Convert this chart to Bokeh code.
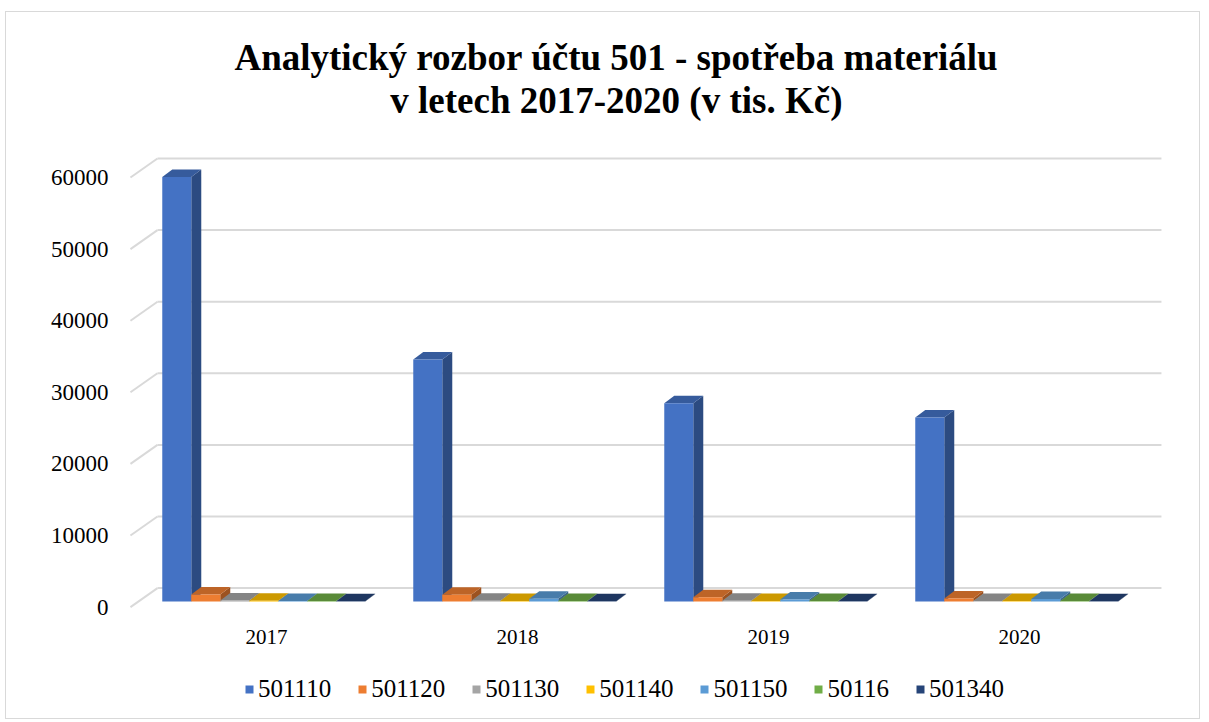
from bokeh.plotting import figure
from bokeh.models import Range1d, FixedTicker, Legend, LegendItem
from bokeh.layouts import column
from bokeh.core.properties import value
from bokeh.embed import file_html
from bokeh.resources import INLINE

# ---------------- data ----------------
YEARS = ["2017", "2018", "2019", "2020"]
SERIES = ["501110", "501120", "501130", "501140", "501150", "50116", "501340"]
V_501110 = [59300, 33800, 27700, 25700]
V_501120 = [1000, 950, 600, 450]
V_501130 = [150, 120, 110, 100]
V_501140 = [120, 100, 90, 90]
V_501150 = [100, 400, 300, 380]
V_50116 = [90, 80, 80, 70]
V_501340 = [60, 50, 40, 40]
VALUES = [V_501110, V_501120, V_501130, V_501140, V_501150, V_50116, V_501340]
COLORS = ["#4472C4", "#ED7D31", "#A5A5A5", "#FFC000", "#5B9BD5", "#70AD47", "#264478"]
Y_TICKS = [0, 10000, 20000, 30000, 40000, 50000, 60000]

TITLE_1 = "Analytický rozbor účtu 501 - spotřeba materiálu"
TITLE_2 = "v letech 2017-2020 (v tis. Kč)"

# ------------- layout / pseudo-3D styling constants -------------
PX_X = 1 / 251.0            # x data units per pixel
PX_Y = 1 / 0.00716          # y data units per pixel
SHIFT = -0.042              # floor front band offset vs label position
WALL_DX, WALL_DY = 27 * PX_X, 19 * PX_Y
BAR_W = 29 * PX_X
GROUP_PAD = 24 * PX_X
FRONT_DX, FRONT_DY = 7.8 * PX_X, 5.5 * PX_Y
DEPTH_DX, DEPTH_DY = 10 * PX_X, 7.5 * PX_Y
FONT = "Liberation Serif"
Y_TOP = 594.6 * PX_Y        # value at top of frame
TITLE_X = 1.394
TITLE_Y1 = (594.6 - 45) * PX_Y
TITLE_Y2 = (594.6 - 88) * PX_Y


def shade(hexcol, f):
    r, g, b = (int(hexcol[i:i + 2], 16) for i in (1, 3, 5))
    return "#%02x%02x%02x" % (int(r * f), int(g * f), int(b * f))


n = len(YEARS)
x_left_front = -0.5 + SHIFT
x_right_front = n - 0.5 + SHIFT

p = figure(width=1193, height=648, output_backend="svg", toolbar_location=None,
           x_range=Range1d(-0.5618, 3.6016), y_range=Range1d(-475, Y_TOP),
           min_border_left=119, min_border_right=29, min_border_top=0,
           min_border_bottom=50)
p.outline_line_color = None
p.xgrid.visible = False
p.ygrid.visible = False
p.background_fill_color = "white"
p.border_fill_color = "white"

# title lines
p.text(x=[TITLE_X], y=[TITLE_Y1], text=[TITLE_1], text_font=value(FONT),
       text_font_size="37px", text_font_style="bold", text_color="#000000",
       text_align="center", text_baseline="middle")
p.text(x=[TITLE_X], y=[TITLE_Y2], text=[TITLE_2], text_font=value(FONT),
       text_font_size="37px", text_font_style="bold", text_color="#000000",
       text_align="center", text_baseline="middle")

# gridlines on back wall + left wall diagonals
gx0 = [x_left_front + WALL_DX] * len(Y_TICKS)
gx1 = [x_right_front + WALL_DX] * len(Y_TICKS)
gy = [t + WALL_DY for t in Y_TICKS]
p.segment(x0=gx0, y0=gy, x1=gx1, y1=gy, line_color="#D9D9D9", line_width=2)
p.segment(x0=[x_left_front] * len(Y_TICKS), y0=Y_TICKS, x1=gx0, y1=gy,
          line_color="#D9D9D9", line_width=2)

# bars (front face + side + top)
for i, (name, vals, col) in enumerate(zip(SERIES, VALUES, COLORS)):
    lefts, rights, bots, tops = [], [], [], []
    side_xs, side_ys, top_xs, top_ys = [], [], [], []
    for c, v in enumerate(vals):
        l = c + x_left_front + GROUP_PAD + i * BAR_W + FRONT_DX
        r = l + BAR_W
        b = FRONT_DY
        t = v + FRONT_DY
        lefts.append(l); rights.append(r); bots.append(b); tops.append(t)
        side_xs.append([r, r + DEPTH_DX, r + DEPTH_DX, r])
        side_ys.append([b, b + DEPTH_DY, t + DEPTH_DY, t])
        top_xs.append([l, r, r + DEPTH_DX, l + DEPTH_DX])
        top_ys.append([t, t, t + DEPTH_DY, t + DEPTH_DY])
    p.patches(side_xs, side_ys, fill_color=shade(col, 0.66), line_color=None)
    p.patches(top_xs, top_ys, fill_color=shade(col, 0.8), line_color=None)
    p.quad(left=lefts, right=rights, bottom=bots, top=tops,
           fill_color=col, line_color=None)

# axes
p.yaxis.ticker = FixedTicker(ticks=Y_TICKS)
p.xaxis.ticker = FixedTicker(ticks=list(range(n)))
p.xaxis.major_label_overrides = {i: y for i, y in enumerate(YEARS)}
for ax in (p.xaxis[0], p.yaxis[0]):
    ax.axis_line_color = None
    ax.major_tick_line_color = None
    ax.minor_tick_line_color = None
    ax.major_label_text_font = FONT
    ax.major_label_text_color = "#000000"
p.xaxis.major_label_text_font_size = "21px"
p.yaxis.major_label_text_font_size = "23px"
p.yaxis.major_label_standoff = 11
p.xaxis.major_label_standoff = 13

# legend strip (proxy renderers hold no drawable point)
p2 = figure(width=1193, height=58, output_backend="svg", toolbar_location=None,
            x_axis_type=None, y_axis_type=None, x_range=Range1d(0, 1),
            y_range=Range1d(0, 1), min_border=0)
p2.outline_line_color = None
nan = float("nan")
items = []
for name, col in zip(SERIES, COLORS):
    rr = p2.quad(left=[nan], right=[nan], bottom=[nan], top=[nan],
                 fill_color=col, line_color=None)
    items.append(LegendItem(label=name, renderers=[rr]))
legend = Legend(items=items, orientation="horizontal", location=(119, 15),
                label_text_font=FONT, label_text_font_size="25px",
                label_text_color="#000000", glyph_width=10, glyph_height=10,
                label_standoff=4, spacing=26, padding=0, border_line_color=None,
                background_fill_alpha=0, margin=0)
p2.add_layout(legend, "center")

layout = column(p, p2, spacing=0,
                styles={"border": "1px solid #d9d9d9", "margin": "11px 0 0 5px"})

open("out.html", "w").write(file_html(layout, INLINE))
